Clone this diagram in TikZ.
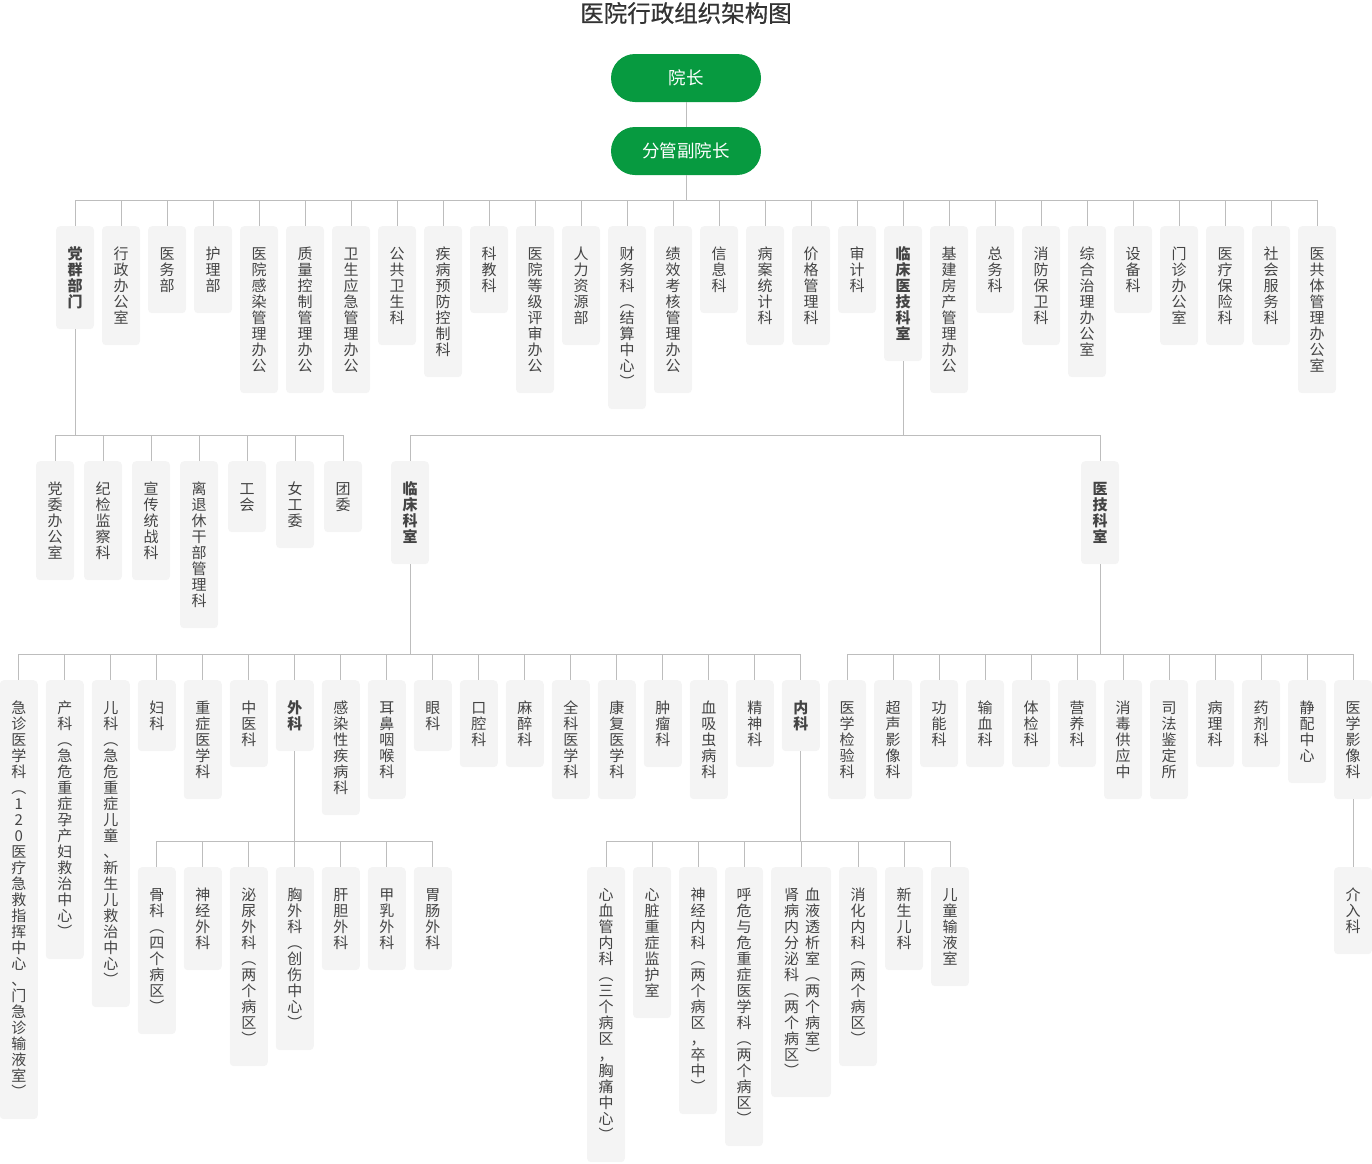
\documentclass[tikz,border=0pt]{standalone}
\usepackage{fontspec}
\setmainfont{Noto Sans CJK SC}
\newfontfamily\titlefont{Noto Sans CJK SC}[BoldFont={Noto Sans CJK SC}, BoldFeatures={FakeBold=0.6}]
\definecolor{pillgreen}{HTML}{079A40}
\definecolor{boxfill}{HTML}{F4F4F4}
\definecolor{linegray}{HTML}{BDBDBD}
\definecolor{txtgray}{HTML}{444444}
\definecolor{titlegray}{HTML}{333333}
\makeatletter
\newcommand\vt[1]{\vbox{\offinterlineskip\@tfor\vt@c:=#1\do{\hbox to 18pt{\vrule height 13.5pt depth 2.5pt width 0pt\hss\vt@c\hss}}}}
\makeatother
\newcommand\vtx[1]{\expandafter\vt\expandafter{#1}}
\tikzset{
  box/.style={fill=boxfill, rounded corners=4pt, minimum width=38pt, inner xsep=0pt, inner ysep=19.5pt, anchor=north, text=txtgray, font=\fontsize{15}{16}\selectfont},
  bbox/.style={box, font=\fontsize{15}{16}\selectfont\bfseries},
  coltext/.style={anchor=north, inner sep=0pt, text=txtgray, font=\fontsize{15}{16}\selectfont},
  pill/.style={fill=pillgreen, rounded corners=24pt, minimum width=150pt, minimum height=48pt, inner sep=0pt, text=white, font=\fontsize{17.5}{20}\selectfont},
  conn/.style={draw=linegray, line width=1pt}
}
\begin{document}
\begin{tikzpicture}[x=1pt,y=-1pt]
\useasboundingbox (0,0) rectangle (1372,1163);
\node[font=\titlefont\bfseries\fontsize{23.5}{26}\selectfont, text=titlegray] (title) at (686,13) {医院行政组织架构图};
\node[pill] (yz) at (686,78) {院长};
\node[pill] (fg) at (686,151) {分管副院长};
\coordinate (busA) at (0,200);
\coordinate (busB) at (0,435);
\coordinate (busC) at (0,654);
\coordinate (busD) at (0,841);
% top row
\node[bbox] (t0) at (75,226) {\vt{党群部门}};
\node[bbox] (t18) at ({75+46*18},226) {\vt{临床医技科室}};
\foreach \i/\t in {1/行政办公室,2/医务部,3/护理部,4/医院感染管理办公,5/质量控制管理办公,6/卫生应急管理办公,7/公共卫生科,8/疾病预防控制科,9/科教科,10/医院等级评审办公,11/人力资源部,12/财务科︵结算中心︶,13/绩效考核管理办公,14/信息科,15/病案统计科,16/价格管理科,17/审计科,19/基建房产管理办公,20/总务科,21/消防保卫科,22/综合治理办公室,23/设备科,24/门诊办公室,25/医疗保险科,26/社会服务科,27/医共体管理办公室}
  {\node[box] (t\i) at ({75+46*\i},226) {\vtx\t};}
% party sub
\foreach \i/\t in {0/党委办公室,1/纪检监察科,2/宣传统战科,3/离退休干部管理科,4/工会,5/女工委,6/团委}
  {\node[box] (p\i) at ({55+48*\i},461) {\vtx\t};}
% clinical / medtech
\node[bbox] (lc) at (410,461) {\vt{临床科室}};
\node[bbox] (yj) at (1100,461) {\vt{医技科室}};
% clinical row
\node[bbox] (c6) at ({18.75+46*6},680) {\vt{外科}};
\node[bbox] (c17) at ({18.75+46*17},680) {\vt{内科}};
\foreach \i/\t in {0/急诊医学科︵120医疗急救指挥中心、门急诊输液室︶,1/产科︵急危重症孕产妇救治中心︶,2/儿科︵急危重症儿童、新生儿救治中心︶,3/妇科,4/重症医学科,5/中医科,7/感染性疾病科,8/耳鼻咽喉科,9/眼科,10/口腔科,11/麻醉科,12/全科医学科,13/康复医学科,14/肿瘤科,15/血吸虫病科,16/精神科}
  {\node[box] (c\i) at ({18.75+46*\i},680) {\vtx\t};}
% surgery sub
\foreach \i/\t in {0/骨科︵四个病区︶,1/神经外科,2/泌尿外科︵两个病区︶,3/胸外科︵创伤中心︶,4/肝胆外科,5/甲乳外科,6/胃肠外科}
  {\node[box] (w\i) at ({156.75+46*\i},867) {\vtx\t};}
% internal medicine sub
\foreach \i/\x/\t in {0/606/心血管内科︵三个病区，胸痛中心︶,1/652/心脏重症监护室,2/698/神经内科︵两个病区，卒中︶,3/744/呼危与危重症医学科︵两个病区︶,5/858/消化内科︵两个病区︶,6/904/新生儿科,7/950/儿童输液室}
  {\node[box] (n\i) at (\x,867) {\vtx\t};}
\node[box, minimum width=60pt, minimum height=230pt, inner ysep=0pt] (n4) at (801,867) {};
\node[coltext] (n4r) at (812.5,886.5) {\vt{血液透析室︵两个病室︶}};
\node[coltext] (n4l) at (791.5,886.5) {\vt{肾病内分泌科︵两个病区︶}};
% medtech row
\foreach \i/\t in {0/医学检验科,1/超声影像科,2/功能科,3/输血科,4/体检科,5/营养科,6/消毒供应中,7/司法鉴定所,8/病理科,9/药剂科,10/静配中心,11/医学影像科}
  {\node[box] (m\i) at ({847+46*\i},680) {\vtx\t};}
\node[box] (jr) at (1353,867) {\vt{介入科}};
% connectors
\draw[conn] (yz.south) -- (fg.north);
\foreach \i in {0,...,27} {\draw[conn] (fg.south) -- (fg.south |- busA) -| (t\i.north);}
\foreach \i in {0,...,6} {\draw[conn] (t0.south) -- (t0.south |- busB) -| (p\i.north);}
\draw[conn] (t18.south) -- (t18.south |- busB) -| (lc.north);
\draw[conn] (t18.south) -- (t18.south |- busB) -| (yj.north);
\foreach \i in {0,...,17} {\draw[conn] (lc.south) -- (lc.south |- busC) -| (c\i.north);}
\foreach \i in {0,...,11} {\draw[conn] (yj.south) -- (yj.south |- busC) -| (m\i.north);}
\foreach \i in {0,...,6} {\draw[conn] (c6.south) -- (c6.south |- busD) -| (w\i.north);}
\foreach \i in {0,...,7} {\draw[conn] (c17.south) -- (c17.south |- busD) -| (n\i.north);}
\draw[conn] (m11.south) -- (jr.north);
\end{tikzpicture}
\end{document}
